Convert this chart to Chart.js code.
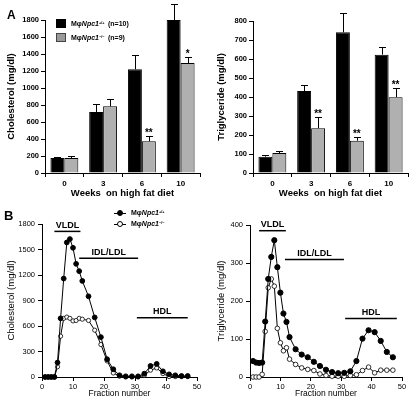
<!DOCTYPE html>
<html>
<head>
<meta charset="utf-8">
<script src="https://cdn.jsdelivr.net/npm/chart.js@4"></script>
<style>
  body { margin: 0; background: #fff; width: 418px; height: 407px; position: relative; overflow: hidden;
         font-family: "Liberation Sans", Arial, sans-serif; color: #000; }
  .box { position: absolute; }
  .txt { position: absolute; font-weight: bold; white-space: nowrap; line-height: 1; }
  .txt i { font-style: italic; }
  .txt sup { font-size: 55%; vertical-align: 0; position: relative; top: -0.6em; }
  .sq { position: absolute; box-sizing: border-box; }
  .mk { position: absolute; height: 1px; background: #000; }
  .dot { position: absolute; width: 6px; height: 6px; border-radius: 50%; box-sizing: border-box; border: 1px solid #000; }
</style>
</head>
<body>
<div class="box" style="left:0;top:0;width:210px;height:200px"><canvas id="cholBar"></canvas></div>
<div class="box" style="left:210px;top:0;width:208px;height:200px"><canvas id="tgBar"></canvas></div>
<div class="box" style="left:0;top:200px;width:210px;height:207px"><canvas id="cholFpl"></canvas></div>
<div class="box" style="left:210px;top:200px;width:208px;height:207px"><canvas id="tgFpl"></canvas></div>

<div class="txt" style="left:7px;top:9px;font-size:12px">A</div>
<div class="txt" style="left:4px;top:209px;font-size:13px">B</div>

<!-- legend A -->
<div class="sq" style="left:56px;top:19px;width:10px;height:9px;background:#000"></div>
<div class="txt" style="left:71px;top:20px;font-size:7px">Mφ<i>Npc1</i><sup>+/+</sup></div>
<div class="txt" style="left:108px;top:20px;font-size:7px">(n=10)</div>
<div class="sq" style="left:56px;top:33px;width:10px;height:9px;background:#9a9a9a;border:1px solid #444"></div>
<div class="txt" style="left:71px;top:34px;font-size:7px">Mφ<i>Npc1</i><sup>−/−</sup></div>
<div class="txt" style="left:108px;top:34px;font-size:7px">(n=9)</div>

<!-- legend B -->
<div class="mk" style="left:114px;top:213px;width:12px"></div>
<div class="dot" style="left:117px;top:210px;background:#000"></div>
<div class="txt" style="left:131px;top:209px;font-size:7px">Mφ<i>Npc1</i><sup>+/+</sup></div>
<div class="mk" style="left:114px;top:224px;width:12px"></div>
<div class="dot" style="left:117px;top:221px;background:#fff"></div>
<div class="txt" style="left:131px;top:220px;font-size:7px">Mφ<i>Npc1</i><sup>−/−</sup></div>

<script>
// ---- panel A: plasma lipids vs weeks on diet ----
const weeks = ["0", "3", "6", "10"];

const cholWT = [176, 718, 1220, 1800];
const cholWTErr = [12, 98, 165, 184];
const cholKO = [176, 784, 373, 1294];
const cholKOErr = [20, 86, 58, 75];
const cholStars = ["", "", "**", "*"];

const tgWT = [86, 431, 741, 623];
const tgWTErr = [10, 30, 101, 42];
const tgKO = [105, 236, 170, 399];
const tgKOErr = [12, 60, 19, 46];
const tgStars = ["", "**", "**", "**"];

// ---- panel B: FPLC fractions ----
const fractions = [1, 2, 3, 4, 5, 6, 7, 8, 9, 10, 11, 12, 13, 15, 17, 19, 21, 23, 25, 27, 29, 31, 33, 35, 37, 39, 41, 43, 45, 47];
const cholFplWT = [0, 0, 0, 0, 170, 690, 1158, 1583, 1623, 1520, 1331, 1245, 1130, 949, 701, 469, 209, 91, 20, 8, 8, 8, 39, 130, 154, 67, 31, 20, 12, 12];
const cholFplKO = [0, 0, 0, 0, 120, 480, 690, 705, 690, 660, 665, 690, 680, 665, 551, 382, 189, 47, 10, 0, 0, 0, 20, 80, 106, 40, 5, 5, 5, 5];
const tgFplWT = [42, 38, 37, 38, 146, 258, 316, 360, 289, 222, 167, 145, 105, 73, 59, 52, 40, 29, 19, 13, 10, 11, 15, 42, 101, 123, 118, 95, 66, 52];
const tgFplKO = [0, 0, 0, 7, 120, 235, 258, 239, 128, 90, 69, 77, 47, 33, 24, 20, 17, 8, 4, 2, 2, 2, 4, 6, 17, 26, 11, 18, 18, 18];

const regionNames = ["VLDL", "IDL/LDL", "HDL"];
const cholRegionFrom = [4, 12, 30.6];
const cholRegionTo = [12.4, 31, 47];
const cholRegionLevel = [1713, 1398, 697];
const tgRegionFrom = [3, 11.5, 31.3];
const tgRegionTo = [11.8, 30.9, 48.3];
const tgRegionLevel = [385, 309, 154];

Chart.defaults.font.family = '"Liberation Sans", Arial, sans-serif';
Chart.defaults.color = "#000";
Chart.defaults.animation = false;
Chart.defaults.plugins.legend.display = false;
Chart.defaults.plugins.tooltip.enabled = false;

// error bars (upward only) + significance stars
const errorBars = {
  id: "errorBars",
  afterDatasetsDraw(chart) {
    const ctx = chart.ctx;
    const y = chart.scales.y;
    ctx.save();
    ctx.strokeStyle = "#000";
    ctx.fillStyle = "#000";
    ctx.lineWidth = 1;
    ctx.font = "bold 10px 'Liberation Sans', Arial";
    ctx.textAlign = "center";
    ctx.textBaseline = "alphabetic";
    chart.data.datasets.forEach((ds, i) => {
      const meta = chart.getDatasetMeta(i);
      meta.data.forEach((bar, j) => {
        const top = Math.round(y.getPixelForValue(ds.data[j] + ds.errors[j])) + 0.5;
        const x = Math.round(bar.x) + 0.5;
        ctx.beginPath();
        ctx.moveTo(x, bar.y);
        ctx.lineTo(x, top);
        ctx.moveTo(x - 3.5, top);
        ctx.lineTo(x + 3.5, top);
        ctx.stroke();
        if (ds.stars && ds.stars[j]) {
          ctx.fillText(ds.stars[j], bar.x, top - 1);
        }
      });
    });
    ctx.restore();
  }
};

// lipoprotein fraction brackets
const regions = {
  id: "regions",
  afterDraw(chart, args, opts) {
    const ctx = chart.ctx;
    const xs = chart.scales.x, ys = chart.scales.y;
    ctx.save();
    ctx.strokeStyle = "#000";
    ctx.fillStyle = "#000";
    ctx.lineWidth = 1.5;
    ctx.font = "bold 9px 'Liberation Sans', Arial";
    ctx.textAlign = "center";
    ctx.textBaseline = "alphabetic";
    for (let i = 0; i < opts.names.length; i++) {
      const x0 = xs.getPixelForValue(opts.from[i]);
      const x1 = xs.getPixelForValue(opts.to[i]);
      const yy = ys.getPixelForValue(opts.level[i]);
      ctx.beginPath();
      ctx.moveTo(x0, yy);
      ctx.lineTo(x1, yy);
      ctx.stroke();
      ctx.fillText(opts.names[i], (x0 + x1) / 2, yy - 3.5);
    }
    ctx.restore();
  }
};

function axisGrid() {
  return { drawOnChartArea: false, drawTicks: true, tickLength: 4, color: "#000", lineWidth: 1 };
}

const plain = (v) => String(v);

function barChart(id, yMax, yStep, yTitle, wt, wtErr, ko, koErr, stars, yWidth, padRight, padTop) {
  const ctx = document.getElementById(id).getContext("2d");
  return new Chart(ctx, {
    type: "bar",
    data: {
      labels: weeks,
      datasets: [
        { data: wt, errors: wtErr, backgroundColor: "#000", borderColor: "#000", borderWidth: 1 },
        { data: ko, errors: koErr, stars: stars, backgroundColor: "#b0b0b0", borderColor: "#000", borderWidth: 1 }
      ]
    },
    options: {
      responsive: true,
      maintainAspectRatio: false,
      devicePixelRatio: 1,
      categoryPercentage: 0.72,
      barPercentage: 1,
      layout: { padding: { left: 0, right: padRight, top: padTop, bottom: 0 } },
      scales: {
        x: {
          grid: Object.assign(axisGrid(), { offset: true }),
          border: { color: "#000", width: 1 },
          ticks: { font: { size: 8, weight: "bold" }, padding: 2 },
          title: { display: true, text: "Weeks  on high fat diet", font: { size: 9.5, weight: "bold" }, padding: { top: 0, bottom: 1 } },
          afterFit: (s) => { s.height = 27; }
        },
        y: {
          min: 0,
          max: yMax,
          grid: axisGrid(),
          border: { color: "#000", width: 1 },
          ticks: { stepSize: yStep, font: { size: 7.5, weight: "bold" }, padding: 2, callback: plain },
          title: { display: true, text: yTitle, font: { size: 9.5, weight: "bold" }, padding: { top: 6, bottom: 0 } },
          afterFit: (s) => { s.width = yWidth; }
        }
      }
    },
    plugins: [errorBars]
  });
}

function fplcChart(id, yMax, yStep, yTitle, wt, ko, rFrom, rTo, rLevel, yWidth, padRight, padTop, r) {
  const ctx = document.getElementById(id).getContext("2d");
  return new Chart(ctx, {
    type: "line",
    data: {
      datasets: [
        {
          data: fractions.map((f, i) => ({ x: f, y: wt[i] })),
          borderColor: "#000", borderWidth: 1, clip: false,
          pointRadius: r, pointBackgroundColor: "#000", pointBorderColor: "#000", pointBorderWidth: 1
        },
        {
          data: fractions.map((f, i) => ({ x: f, y: ko[i] })),
          borderColor: "#000", borderWidth: 1, clip: false,
          pointRadius: r - 0.3, pointBackgroundColor: "#fff", pointBorderColor: "#000", pointBorderWidth: 0.8
        }
      ]
    },
    options: {
      responsive: true,
      maintainAspectRatio: false,
      devicePixelRatio: 1,
      layout: { padding: { left: 0, right: padRight, top: padTop, bottom: 0 } },
      plugins: { regions: { names: regionNames, from: rFrom, to: rTo, level: rLevel } },
      scales: {
        x: {
          type: "linear", min: 0, max: 50,
          grid: axisGrid(),
          border: { color: "#000", width: 1 },
          ticks: { stepSize: 10, font: { size: 7.5 }, padding: 1, callback: plain },
          title: { display: true, text: "Fraction number", font: { size: 8.5 }, padding: { top: 0, bottom: 8 } },
          afterFit: (s) => { s.height = 30; }
        },
        y: {
          min: 0, max: yMax,
          grid: axisGrid(),
          border: { color: "#000", width: 1 },
          ticks: { stepSize: yStep, font: { size: 7.5 }, padding: 3, callback: plain },
          title: { display: true, text: yTitle, font: { size: 9.5 }, padding: { top: 6, bottom: 0 } },
          afterFit: (s) => { s.width = yWidth; }
        }
      }
    },
    plugins: [regions]
  });
}

barChart("cholBar", 1800, 200, "Cholesterol (mg/dl)", cholWT, cholWTErr, cholKO, cholKOErr, cholStars, 45, 10, 20);
barChart("tgBar", 800, 100, "Triglyceride (mg/dl)", tgWT, tgWTErr, tgKO, tgKOErr, tgStars, 43, 10, 21);
fplcChart("cholFpl", 1800, 300, "Cholesterol (mg/dl)", cholFplWT, cholFplKO, cholRegionFrom, cholRegionTo, cholRegionLevel, 42, 13, 24, 2.4);
fplcChart("tgFpl", 400, 100, "Triglyceride (mg/dl)", tgFplWT, tgFplKO, tgRegionFrom, tgRegionTo, tgRegionLevel, 40, 16, 25, 2.6);
</script>
</body>
</html>
